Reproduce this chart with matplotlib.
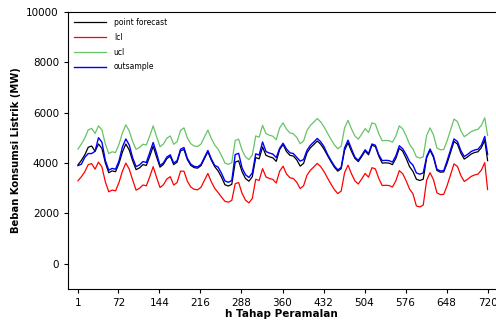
import numpy as np
import matplotlib
matplotlib.use('Agg')
import matplotlib.pyplot as plt

# forecast horizon (every 6th step, plus the last one)
h = np.append(np.arange(1, 721, 6), 720)

point_forecast = [
    3930, 4110, 4330, 4630, 4680, 4470, 4760, 4585, 4010, 3620,
    3690, 3660, 3990, 4440, 4760, 4520, 4090, 3740, 3810, 3940,
    3910, 4270, 4670, 4240, 3840, 3950, 4180, 4270, 3940, 4040,
    4490, 4540, 4140, 3910, 3820, 3800, 3900, 4180, 4450, 4120,
    3860, 3690, 3440, 3140, 3090, 3160, 4040, 4090, 3660, 3390,
    3280, 3460, 4220, 4170, 4640, 4310, 4250, 4210, 4070, 4540,
    4740, 4460, 4310, 4280, 4130, 3880, 3990, 4410, 4610, 4740,
    4880, 4750, 4550, 4300, 4060, 3840, 3680, 3780, 4510, 4810,
    4470, 4190, 4060, 4260, 4480, 4330, 4710, 4660, 4280, 4000,
    4010, 4000, 3940, 4190, 4590, 4470, 4190, 3860, 3670, 3360,
    3310, 3360, 4210, 4510, 4230, 3710, 3640, 3650, 4000, 4430,
    4860, 4760, 4400, 4160, 4250, 4360, 4420, 4450, 4610, 4910,
    4100,
]

lcl = [
    3300, 3460, 3660, 3940, 3980, 3760, 4040, 3850, 3260, 2860,
    2930, 2900, 3230, 3680, 4000, 3760, 3330, 2930, 3000, 3130,
    3100, 3460, 3860, 3430, 3030, 3140, 3370, 3460, 3130, 3230,
    3680, 3680, 3280, 3050, 2960, 2940, 3040, 3320, 3590, 3260,
    3000, 2830, 2650, 2480, 2450, 2520, 3180, 3230, 2800, 2530,
    2420, 2600, 3360, 3310, 3780, 3450, 3390, 3350, 3210, 3680,
    3880, 3570, 3420, 3390, 3240, 2990, 3100, 3520, 3720, 3850,
    3990, 3860, 3660, 3410, 3170, 2950, 2790, 2890, 3620, 3920,
    3580, 3300, 3170, 3370, 3590, 3440, 3820, 3770, 3390, 3110,
    3120, 3110, 3050, 3300, 3700, 3580, 3300, 2970, 2780, 2300,
    2260, 2330, 3320, 3620, 3340, 2820, 2750, 2760, 3110, 3540,
    3970, 3870, 3510, 3270, 3360, 3470, 3530, 3560, 3720, 4020,
    2950,
]

ucl = [
    4560, 4760, 5000, 5320, 5380, 5180, 5480, 5320, 4760, 4380,
    4450, 4420, 4750, 5200, 5520, 5280, 4850, 4550, 4620, 4750,
    4720, 5080, 5480, 5050, 4650, 4760, 4990, 5080, 4750, 4850,
    5300, 5400, 5000, 4770, 4680, 4660, 4760, 5040, 5310, 4980,
    4720, 4550, 4300, 4000, 3950, 4020, 4900, 4950, 4520, 4250,
    4140, 4320, 5080, 5030, 5500, 5170, 5110, 5070, 4930, 5400,
    5600, 5350, 5200, 5170, 5020, 4770, 4880, 5300, 5500, 5630,
    5770, 5640, 5440, 5190, 4950, 4730, 4570, 4670, 5400, 5700,
    5360, 5080, 4950, 5150, 5370, 5220, 5600, 5550, 5170, 4890,
    4900, 4890, 4830, 5080, 5480, 5360, 5080, 4750, 4560, 4250,
    4200, 4250, 5100, 5400, 5120, 4600, 4530, 4540, 4890, 5320,
    5750, 5650, 5290, 5050, 5140, 5250, 5310, 5340, 5500, 5800,
    5100,
]

outsample = [
    3900, 3960, 4230, 4380, 4380, 4470, 5010, 4835, 4110, 3720,
    3790, 3760, 4090, 4640, 4960, 4720, 4210, 3860, 3930, 4060,
    4030, 4420, 4820, 4390, 3900, 4010, 4240, 4330, 4000, 4100,
    4550, 4620, 4190, 3960, 3870, 3850, 3950, 4230, 4500, 4170,
    3910, 3840, 3590, 3290, 3240, 3310, 4340, 4390, 3810, 3540,
    3430, 3610, 4370, 4320, 4840, 4460, 4400, 4360, 4220, 4590,
    4790, 4560, 4410, 4380, 4230, 4080, 4140, 4510, 4710, 4840,
    4980, 4850, 4650, 4350, 4110, 3890, 3730, 3830, 4610, 4910,
    4570, 4240, 4110, 4310, 4530, 4380, 4760, 4710, 4330, 4100,
    4110, 4100, 4040, 4290, 4690, 4570, 4340, 4060, 3920, 3610,
    3560, 3610, 4260, 4560, 4280, 3760, 3690, 3700, 4100, 4530,
    4960, 4860, 4500, 4260, 4350, 4460, 4520, 4550, 4710, 5060,
    4350,
]

xticks = [1, 72, 144, 216, 288, 360, 432, 504, 576, 648, 720]
yticks = [0, 2000, 4000, 6000, 8000, 10000]

fig = plt.figure(figsize=(4.96, 3.26), dpi=100)
ax = fig.add_axes([0.137, 0.1135, 0.861, 0.8495])

ax.plot(h, point_forecast, color='black', lw=0.9, label='point forecast')
ax.plot(h, lcl, color='#ff0000', lw=0.9, label='lcl')
ax.plot(h, ucl, color='#66c466', lw=0.9, label='ucl')
ax.plot(h, outsample, color='#0000ff', lw=1.0, label='outsample')

ax.set_xlim(-16.6, 733)
ax.set_ylim(-1000, 10000)
ax.set_xticks(xticks)
ax.set_yticks(yticks)
ax.tick_params(labelsize=7.5, length=3, width=0.8, direction='out')
for s in ['right']:
    ax.spines[s].set_visible(False)
for s in ['left', 'bottom', 'top']:
    ax.spines[s].set_linewidth(0.8)

ax.set_xlabel('h Tahap Peramalan', fontsize=7.5, fontweight='bold', labelpad=1)
ax.set_ylabel('Beban Konsumsi Listrik (MW)', fontsize=7.2, fontweight='bold', labelpad=4)

ax.legend(loc='upper left', fontsize=5.5, frameon=False, handlelength=4.2,
          handletextpad=1.0, labelspacing=0.75, borderaxespad=0.4)

fig.savefig('out.png', dpi=100)
